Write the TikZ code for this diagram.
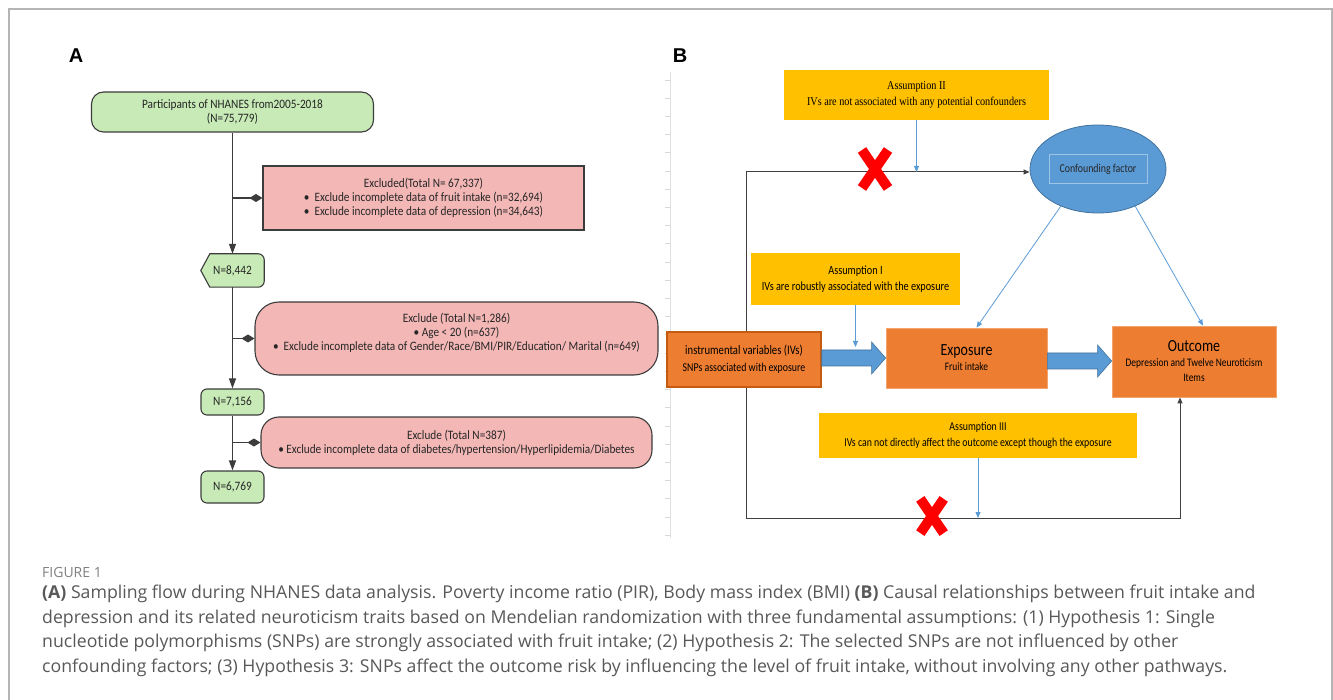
\documentclass[tikz,border=0pt]{standalone}
\usepackage{fontspec}
\usepackage{xcolor}
\usepackage{tikz}
\usetikzlibrary{arrows.meta,shapes.geometric,positioning,backgrounds,calc}

\newfontfamily\flowfont[FakeStretch=0.88]{Carlito}
\newfontfamily\mrfont[FakeStretch=0.82]{Carlito}
\newfontfamily\assfont[FakeStretch=0.85]{Liberation Serif}
\newfontfamily\capfont{Open Sans}
\newfontfamily\panelfont{Liberation Sans}

\definecolor{flowgreen}{HTML}{C7EAB6}
\definecolor{flowpink}{HTML}{F3B7B6}
\definecolor{flowline}{HTML}{3C3C3C}
\definecolor{mrgold}{HTML}{FFC000}
\definecolor{mrorange}{HTML}{ED7D31}
\definecolor{mrorangedark}{HTML}{C55A11}
\definecolor{mrblue}{HTML}{5B9BD5}
\definecolor{mrbluedark}{HTML}{41719C}
\definecolor{mrline}{HTML}{404040}
\definecolor{framegray}{HTML}{B4B4B4}
\definecolor{captext}{HTML}{585858}

\begin{document}
\begin{tikzpicture}
		[x=1pt,y=-1pt,
		flowtxt/.style={font=\flowfont\fontsize{12.8}{14}\selectfont,align=center,text=black!85,inner sep=0pt},
		greenbox/.style={flowtxt,draw=flowline,fill=flowgreen,line width=1.1pt,rounded corners=6pt,minimum width=63pt,minimum height=27pt},
		pinkbox/.style={flowtxt,draw=flowline,fill=flowpink,line width=1.1pt},
		flowarrow/.style={draw=flowline,line width=1.1pt,-{Triangle[length=10pt,width=7pt]}},
		flowside/.style={draw=flowline,line width=1.1pt,-{Diamond[length=13pt,width=8pt]}},
		assbox/.style={fill=mrgold,align=center,inner sep=0pt,font=\mrfont\fontsize{12.5}{16}\selectfont},
		orangebox/.style={fill=mrorange,draw=mrorange!70!white,line width=0.8pt,align=center,inner sep=0pt,font=\mrfont\fontsize{11.5}{15}\selectfont},
		thinarrow/.style={draw=mrblue,line width=0.8pt,-{Triangle[length=6pt,width=5pt]}},
		loopline/.style={draw=mrline,line width=1pt,-{Triangle[length=6pt,width=5pt]}},
		bigarrow/.style={fill=mrblue,draw=mrbluedark,line width=0.6pt,
			to path={($(\tikztostart)+(0,-8)$) -- ($(\tikztotarget)+(-14,-8)$) -- ($(\tikztotarget)+(-14,-16)$) -- (\tikztotarget)
				-- ($(\tikztotarget)+(-14,16)$) -- ($(\tikztotarget)+(-14,8)$) -- ($(\tikztostart)+(0,8)$) -- cycle}},
		redcross/.pic={\draw[red,line width=10pt] (-13,-19) -- (13,19) (-13,19) -- (13,-19);},
		captxt/.style={anchor=west,inner sep=0pt,text=captext,font=\capfont\fontsize{17.7}{20}\selectfont}]
		\useasboundingbox (0,0) rectangle (1333,700);
		\draw[framegray,line width=1.5pt] (9,700) -- (9,9) -- (1332,9) -- (1332,700);

		% panel A
		\node[font=\panelfont\bfseries\fontsize{20}{20}\selectfont] (labA) at (76,56) {A};
		\node[greenbox,rounded corners=12pt,minimum width=282pt,minimum height=40pt] (start) at (232.5,112)
			{Participants of NHANES from2005-2018\\(N=75,779)};
		\node[pinkbox,minimum width=321pt,minimum height=64pt] (ex1) at (423.5,198)
			{Excluded(Total N= 67,337)\\\textbullet~~Exclude incomplete data of fruit intake (n=32,694)\\\textbullet~~Exclude incomplete data of depression (n=34,643)};
		\node[flowtxt,minimum width=63pt,minimum height=33pt] (n1) at (232.5,270.5) {N=8,442};
		\node[pinkbox,rounded corners=24pt,minimum width=403pt,minimum height=73pt] (ex2) at (456.5,338.5) {};
		\node[flowtxt] (ex2t) at ([yshift=6pt]ex2.center)
			{Exclude (Total N=1,286)\\\textbullet~Age < 20 (n=637)\\\textbullet~~Exclude incomplete data of Gender/Race/BMI/PIR/Education/ Marital (n=649)};
		\node[greenbox,minimum height=26pt] (n2) at (232.5,402) {N=7,156};
		\node[pinkbox,rounded corners=18pt,minimum width=391pt,minimum height=51pt] (ex3) at (456.5,442.5)
			{Exclude (Total N=387)\\\textbullet~Exclude incomplete data of diabetes/hypertension/Hyperlipidemia/Diabetes};
		\node[greenbox,minimum height=32pt] (n3) at (232.5,487) {N=6,769};
		\begin{scope}[on background layer]
			\filldraw[draw=flowline,fill=flowgreen,line width=1.1pt] ([xshift=9pt]n1.north west) -- (n1.west) -- ([xshift=9pt]n1.south west)
				[rounded corners=6pt] -- (n1.south east) -- (n1.north east) [sharp corners] -- cycle;
		\end{scope}
		\draw[flowarrow] (start.south) -- (n1.north);
		\draw[flowarrow] (n1.south) -- (n2.north);
		\draw[flowarrow] (n2.south) -- (n3.north);
		\draw[flowside] (start.south |- ex1.west) -- (ex1.west);
		\draw[flowside] (start.south |- ex2.west) -- (ex2.west);
		\draw[flowside] (start.south |- ex3.west) -- (ex3.west);

		% panel B
		\node[font=\panelfont\bfseries\fontsize{20}{20}\selectfont] (labB) at (680,56) {B};
		\node[assbox,font=\assfont\fontsize{12}{16}\selectfont,minimum width=265pt,minimum height=50pt] (ass2) at (916.5,95)
			{Assumption II\\IVs are not associated with any potential confounders};
		\node[ellipse,fill=mrblue,draw=mrbluedark,line width=0.8pt,minimum width=136pt,minimum height=88pt] (conf) at (1098,169) {};
		\node[draw=mrblue!60!white,line width=0.5pt,minimum width=98pt,minimum height=29pt,inner sep=0pt,
			font=\mrfont\fontsize{12}{14}\selectfont,text=black!85] (conft) at (conf.center) {Confounding factor};
		\node[assbox,minimum width=209pt,minimum height=52pt] (ass1) at (855.5,279)
			{Assumption I\\IVs are robustly associated with the exposure};
		\node[orangebox,draw=mrorangedark,line width=1.5pt,minimum width=154pt,minimum height=55pt,
			font=\mrfont\fontsize{12}{17}\selectfont] (iv) at (744,359.5)
			{{\fontsize{13}{17}\selectfont instrumental variables (IVs)}\\SNPs associated with exposure};
		\node[orangebox,minimum width=161pt,minimum height=60pt] (expo) at (966.5,358)
			{{\fontsize{17}{19}\selectfont Exposure}\\Fruit intake};
		\node[orangebox,minimum width=164pt,minimum height=71pt] (outc) at (1194,361.5)
			{{\fontsize{17}{19}\selectfont Outcome}\\Depression and Twelve Neuroticism\\Items};
		\node[assbox,font=\mrfont\fontsize{12}{16}\selectfont,minimum width=318pt,minimum height=45pt] (ass3) at (978,435.5)
			{Assumption III\\IVs can not directly affect the outcome except though the exposure};
		\coordinate (topL) at (746,172);
		\coordinate (botL) at (746,518);
		\coordinate (outin) at ([xshift=-14pt]outc.south);
		\coordinate (ass1end) at (855.5,347);
		\begin{scope}[on background layer]
			\draw[black!12,line width=0.6pt] (670,72) -- (670,538);
			\foreach \k in {0,...,25}
				\draw[black!15,line width=0.6pt] (665,{80+18.2*\k}) -- (670,{80+18.2*\k});
			\draw[loopline] (botL) -- (topL) -- (topL -| conf.west);
			\draw[loopline] (botL) -- (botL -| outin) -- (outin);
		\end{scope}
		\draw[bigarrow] (iv.east |- 0,358) to (expo.west |- 0,358);
		\draw[bigarrow] (expo.east |- 0,361) to (outc.west |- 0,361);
		\draw[thinarrow] (ass2.south) -- (ass2.south |- topL);
		\draw[thinarrow] (ass1.south) -- (ass1end);
		\draw[thinarrow] (ass3.south) -- (ass3.south |- botL);
		\draw[thinarrow] (conf.225) -- ([xshift=10pt]expo.north);
		\draw[thinarrow] (conf.-45) -- ([xshift=9pt]outc.north);
		\pic at (875,169) {redcross};
		\pic[scale=0.9] at (932,516) {redcross};

		% caption
		\node[captxt,font=\capfont\fontsize{14}{16}\selectfont,text=black!50] (figno) at (42,572) {FIGURE 1};
		\node[captxt] (cap1) at (42,594) {\textbf{(A)} Sampling flow during NHANES data analysis. Poverty income ratio (PIR), Body mass index (BMI) \textbf{(B)} Causal relationships between fruit intake and};
		\node[captxt] (cap2) at (42,619) {depression and its related neuroticism traits based on Mendelian randomization with three fundamental assumptions: (1) Hypothesis 1: Single};
		\node[captxt] (cap3) at (42,643) {nucleotide polymorphisms (SNPs) are strongly associated with fruit intake; (2) Hypothesis 2: The selected SNPs are not influenced by other};
		\node[captxt] (cap4) at (42,668) {confounding factors; (3) Hypothesis 3: SNPs affect the outcome risk by influencing the level of fruit intake, without involving any other pathways.};
\end{tikzpicture}
\end{document}
